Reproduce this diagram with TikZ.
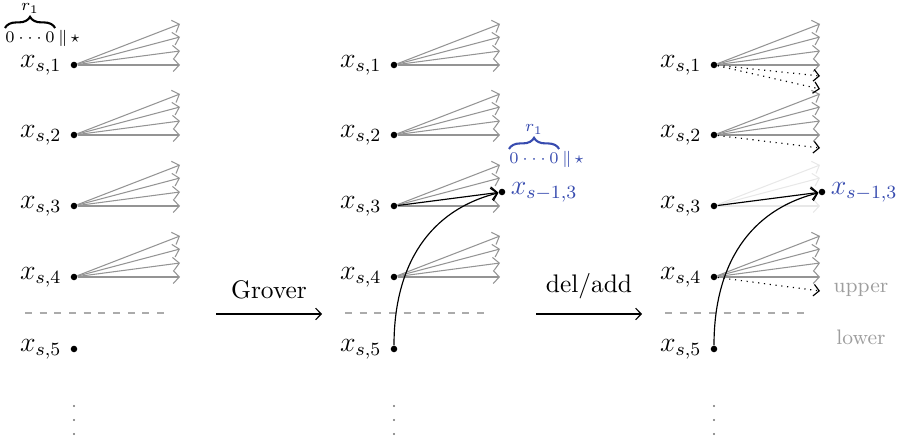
\documentclass[tikz,border=0pt]{standalone}
\usetikzlibrary{arrows.meta,decorations.pathreplacing,positioning}
\definecolor{myblue}{RGB}{55,75,175}
\newcommand{\zsp}{\hspace{1.5pt}}
\begin{document}
\begin{tikzpicture}[x=0.429pt,y=-0.429pt,
  dotn/.style={circle,fill=black,inner sep=0pt,minimum size=2.8pt},
  vdot/.style={circle,fill=black!55,inner sep=0pt,minimum size=0.9pt},
  lab/.style={font=\large,inner sep=0pt},
  bt/.style={font=\scriptsize,inner sep=0pt},
  tipg/.style={-{Straight Barb[length=2.6pt,width=5.6pt]}},
  garr/.style={draw=black!42,line width=0.45pt,tipg},
  larr/.style={draw=black!9,line width=0.45pt,tipg},
  barr/.style={draw=black,line width=0.5pt,tipg},
  darr/.style={draw=black,line width=0.5pt,dotted,-{Straight Barb[length=2.4pt,width=5pt]}},
  dline/.style={draw=black!33,line width=0.5pt,dash pattern=on 3pt off 3.3pt},
  brc/.style={decorate,decoration={brace,amplitude=4.8pt},line width=0.9pt},
  mtxt/.style={font=\fontsize{10.9pt}{13pt}\selectfont},
  marr/.style={draw=black,line width=0.5pt,-{Straight Barb[length=2.4pt,width=5pt]}}]
\useasboundingbox (0,0) rectangle (904,444);

% dots and labels
\foreach \p/\x in {a/74,b/394,c/714}{
  \foreach \r/\y in {1/65,2/135,3/206,4/277,5/349}{
    \node[dotn] (\p\r) at (\x,\y) {};
    \node[lab,left=3.6pt of \p\r] (\p\r lab) {$x_{s,\r}$};
  }
  \foreach \k/\yy in {1/406,2/420,3/434}
    \node[vdot] (\p v\k) at (\x,\yy) {};
  \coordinate (\p dl) at (\x-49,313);
  \coordinate (\p dr) at (\x+93,313);
  \draw[dline] (\p dl) -- (\p dr);
}

% gray fans
\foreach \p/\x in {a/74,b/394,c/714}
  \foreach \r/\y in {1/65,2/135,4/277}
    \foreach \k/\d in {1/-41,2/-28,3/-14,4/0}{
      \coordinate (\p\r t\k) at (\x+106,\y+\d);
      \draw[garr] (\p\r) -- (\p\r t\k);
    }
\foreach \k/\d in {1/-41,2/-28,3/-14,4/0}{
  \coordinate (a3t\k) at (180,206+\d);
  \draw[garr] (a3) -- (a3t\k);
}
\foreach \k/\d in {1/-41,2/-28,4/0}{
  \coordinate (b3t\k) at (500,206+\d);
  \draw[garr] (b3) -- (b3t\k);
  \coordinate (c3t\k) at (820,206+\d);
  \draw[larr] (c3) -- (c3t\k);
}

% new nodes
\node[dotn] (bn) at (502,192) {};
\node[lab,text=myblue,right=2pt of bn] (bnlab) {$x_{s-1,3}$};
\node[dotn] (cn) at (822,192) {};
\node[lab,text=myblue,right=2pt of cn] (cnlab) {$x_{s-1,3}$};

\draw[barr] (b3) -- (bn);
\draw[barr] (b5) .. controls +(0,-85) and +(-72,18) .. (bn);
\draw[barr] (c3) -- (cn);
\draw[barr] (c5) .. controls +(0,-85) and +(-72,18) .. (cn);

% dotted arrows
\coordinate (c1u1) at (820,76);
\coordinate (c1u2) at (820,89);
\coordinate (c2u1) at (820,148);
\coordinate (c4u1) at (820,291);
\draw[darr] (c1) -- (c1u1);
\draw[darr] (c1) -- (c1u2);
\draw[darr] (c2) -- (c2u1);
\draw[darr] (c4) -- (c4u1);

% braces
\node[bt,anchor=west] (za) at (5,37) {$0\zsp{\cdot}\zsp{\cdot}\zsp{\cdot}\zsp0$};
\node[bt,anchor=base west] (sa) at (za.base east) {$\hspace{1.1pt}\|\hspace{1.1pt}{\star}$};
\draw[brc] ([yshift=1.4pt]za.north west) -- ([yshift=1.4pt]za.north east);
\node[bt,above=7.5pt of za] (ra) {$r_1$};

\node[bt,anchor=west,text=myblue] (zb) at (509,158) {$0\zsp{\cdot}\zsp{\cdot}\zsp{\cdot}\zsp0$};
\node[bt,anchor=base west,text=myblue] (sb) at (zb.base east) {$\hspace{1.1pt}\|\hspace{1.1pt}{\star}$};
\draw[brc,draw=myblue] ([yshift=1.4pt]zb.north west) -- ([yshift=1.4pt]zb.north east);
\node[bt,above=7.5pt of zb,text=myblue] (rb) {$r_1$};

% transitions
\coordinate (g1) at (216,314);
\coordinate (g2) at (322,314);
\draw[marr] (g1) -- node[above=3pt,mtxt] (gt) {Grover} (g2);
\coordinate (h1) at (536,314);
\coordinate (h2) at (642,314);
\draw[marr] (h1) -- node[above=3pt,mtxt] (ht) {del/add} (h2);

\node[font=\small,text=black!38] (up) at (861,290) {upper};
\node[font=\small,text=black!38] (lo) at (861,337) {lower};
\end{tikzpicture}
\end{document}
